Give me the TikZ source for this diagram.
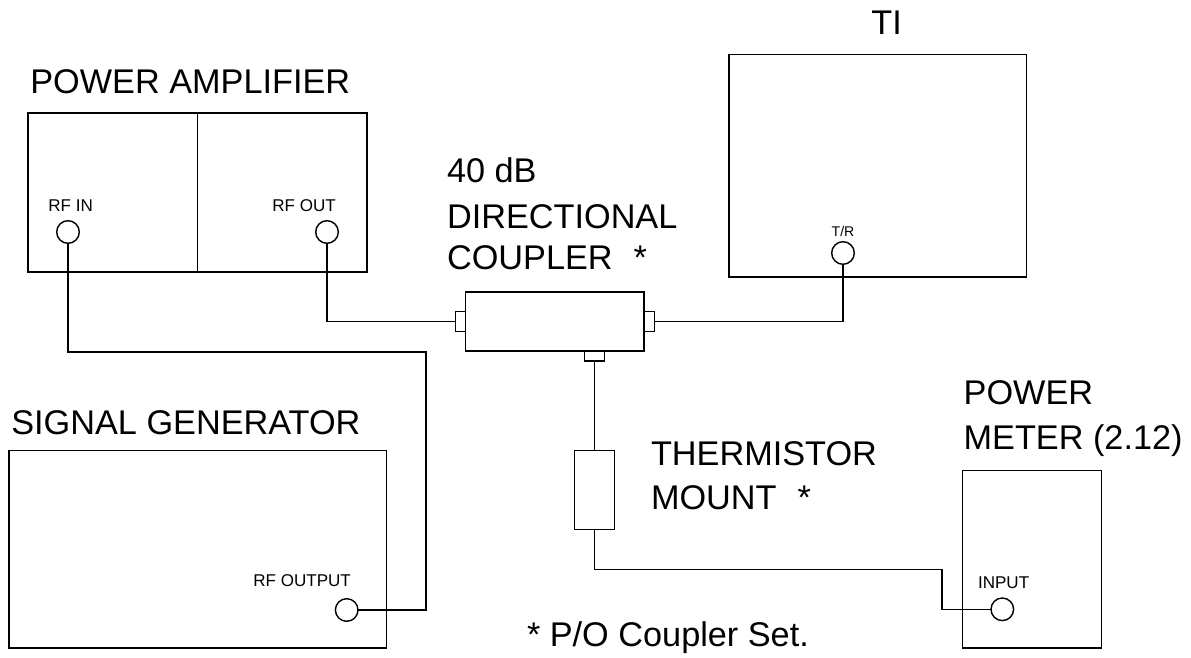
\documentclass[tikz,border=0pt]{standalone}
\usepackage{fontspec}
\setmainfont{Liberation Sans}
\usepackage{tikz}
\usetikzlibrary{positioning,calc}
\tikzset{
  unit/.style={draw=black, line width=0.8pt, rectangle, inner sep=0pt, outer sep=0pt},
  jack/.style={draw=black, line width=0.8pt, circle, minimum size=0.452cm, inner sep=0pt, outer sep=0pt},
  tab/.style={draw=black, line width=0.8pt, rectangle, inner sep=0pt, outer sep=0pt},
  cable/.style={line width=0.8pt},
  title/.style={font=\fontsize{19.5pt}{24pt}\selectfont, inner sep=0pt, anchor=base west},
  portlbl/.style={font=\fontsize{9.7pt}{11pt}\selectfont, inner sep=0pt, anchor=base west}
}
\begin{document}
\begin{tikzpicture}[x=0.02cm, y=-0.02cm]
\useasboundingbox (0,0) rectangle (1191,658);
% instruments
\node[unit, minimum width=6.78cm, minimum height=3.18cm] (amp) at (197.5,192.5) {};
\draw[cable] (amp.north) -- (amp.south);
\node[unit, minimum width=5.954cm, minimum height=4.454cm] (ti) at (877.85,165.65) {};
\node[unit, minimum width=7.554cm, minimum height=3.946cm] (gen) at (197.85,549.35) {};
\node[unit, minimum width=2.788cm, minimum height=3.546cm] (meter) at (1032,559.35) {};
% coupler and thermistor
\node[unit, minimum width=3.566cm, minimum height=1.18cm] (coupler) at (554.85,321.5) {};
\node[tab, minimum width=0.206cm, minimum height=0.4cm, anchor=east] (tabL) at (coupler.west) {};
\node[tab, minimum width=0.206cm, minimum height=0.4cm, anchor=west] (tabR) at (coupler.east) {};
\node[tab, minimum width=0.4cm, minimum height=0.2cm, anchor=north] (tabB) at (594.7,351) {};
\node[unit, minimum width=0.8cm, minimum height=1.588cm] (therm) at (594.7,490) {};
% jacks
\node[jack] (rfin) at (68,232) {};
\node[jack] (rfout) at (327,232) {};
\node[jack] (tr) at (843,253) {};
\node[jack] (genout) at (346.7,610) {};
\node[jack] (mtrin) at (1002.3,609.3) {};
% jack labels
\node[portlbl] (rfinlbl) at (48,212) {RF IN};
\node[portlbl] (rfoutlbl) at (272,212) {RF OUT};
\node[portlbl, anchor=base, font=\fontsize{8pt}{9pt}\selectfont] (trlbl) at (843,237) {T/R};
\node[portlbl] (genoutlbl) at (253,587) {RF OUTPUT};
\node[portlbl] (mtrinlbl) at (977.7,588.7) {INPUT};
% titles
\node[title] (amptitle) at (30,94) {POWER AMPLIFIER};
\node[title, anchor=base] (tititle) at (886.7,34.3) {TI};
\node[title] (gentitle) at (11,435) {SIGNAL GENERATOR};
\node[title] (cplA) at (446.7,182.3) {40 dB};
\node[title] (cplB) at (446.7,228.3) {DIRECTIONAL};
\node[title] (cplC) at (446.7,270) {COUPLER\hspace{12pt}*};
\node[title] (thmA) at (650.7,465.7) {THERMISTOR};
\node[title] (thmB) at (650.7,510) {MOUNT\hspace{12pt}*};
\node[title] (mtrA) at (963.3,405) {POWER};
\node[title] (mtrB) at (963.3,450) {METER (2.12)};
\node[title] (note) at (526.7,646.7) {* P/O Coupler Set.};
% cables
\coordinate (genbend) at (426,352);
\coordinate (mtrbend) at (942,569.3);
\draw[cable] (rfin.south) |- (genbend) |- (genout.east);
\draw[cable] (rfout.south) |- (tabL.west);
\draw[cable] (tr.south) |- (tabR.east);
\draw[cable] (tabB.south) -- (therm.north);
\draw[cable] (therm.south) |- (mtrbend) |- (mtrin.west);
\end{tikzpicture}
\end{document}
